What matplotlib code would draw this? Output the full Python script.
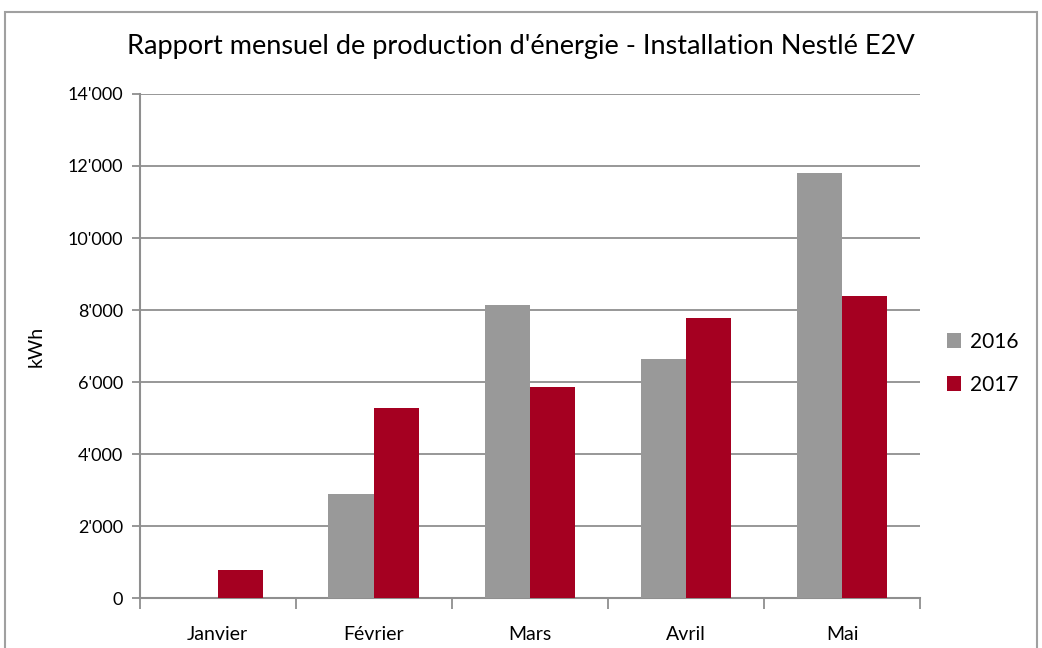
import numpy as np
import matplotlib.pyplot as plt
from matplotlib.patches import Rectangle
from matplotlib.ticker import FuncFormatter, FixedLocator

mois = ["Janvier", "Février", "Mars", "Avril", "Mai"]
prod_2016 = [0, 2900, 8130, 6640, 11800]
prod_2017 = [780, 5280, 5850, 7770, 8400]

gris = "#999999"
rouge = "#A50021"
ligne = "#8f8f8f"

plt.rcParams["font.family"] = ["Lato", "DejaVu Sans"]

fig = plt.figure(figsize=(10.42, 6.48), dpi=100)
ax = fig.add_axes([0.134, 0.077, 0.749, 0.778])

x = np.arange(len(mois))
w = 0.29
ax.bar(x - w / 2, prod_2016, w, color=gris, label="2016", zorder=3)
ax.bar(x + w / 2, prod_2017, w, color=rouge, label="2017", zorder=3)

ax.set_xlim(-0.5, len(mois) - 0.5)
ax.set_ylim(0, 14000)
ax.set_yticks(np.arange(0, 14001, 2000))
ax.yaxis.set_major_formatter(FuncFormatter(lambda v, p: f"{int(v):,}".replace(",", "'")))
ax.yaxis.grid(True, color=ligne, linewidth=1.3, zorder=0)

ax.set_xticks(x)
ax.set_xticklabels(mois, fontsize=14)
ax.tick_params(axis="x", which="major", length=0, pad=20)
ax.xaxis.set_minor_locator(FixedLocator(np.arange(-0.5, len(mois), 1.0)))
ax.tick_params(axis="x", which="minor", length=8, width=1.3, color=ligne)
ax.tick_params(axis="y", length=6, width=1.3, color=ligne, labelsize=13, pad=6)

for s in ["top", "right"]:
    ax.spines[s].set_visible(False)
for s in ["left", "bottom"]:
    ax.spines[s].set_color(ligne)
    ax.spines[s].set_linewidth(1.5)

ax.set_ylabel("kWh", fontsize=14, labelpad=16)

fig.suptitle("Rapport mensuel de production d'énergie - Installation Nestlé E2V",
             x=0.5, y=0.948, fontsize=19.5)

ax.legend(loc="center left", bbox_to_anchor=(1.01, 0.466), frameon=False,
          fontsize=15, handlelength=0.7, handleheight=0.7, handletextpad=0.4,
          labelspacing=1.1)

fig.patches.append(Rectangle((5 / 1042, -0.05), 1032 / 1042, 1.05 - 12 / 648,
                             transform=fig.transFigure, fill=False,
                             edgecolor="#a0a0a0", linewidth=1.5))

fig.savefig("out.png", dpi=100)
